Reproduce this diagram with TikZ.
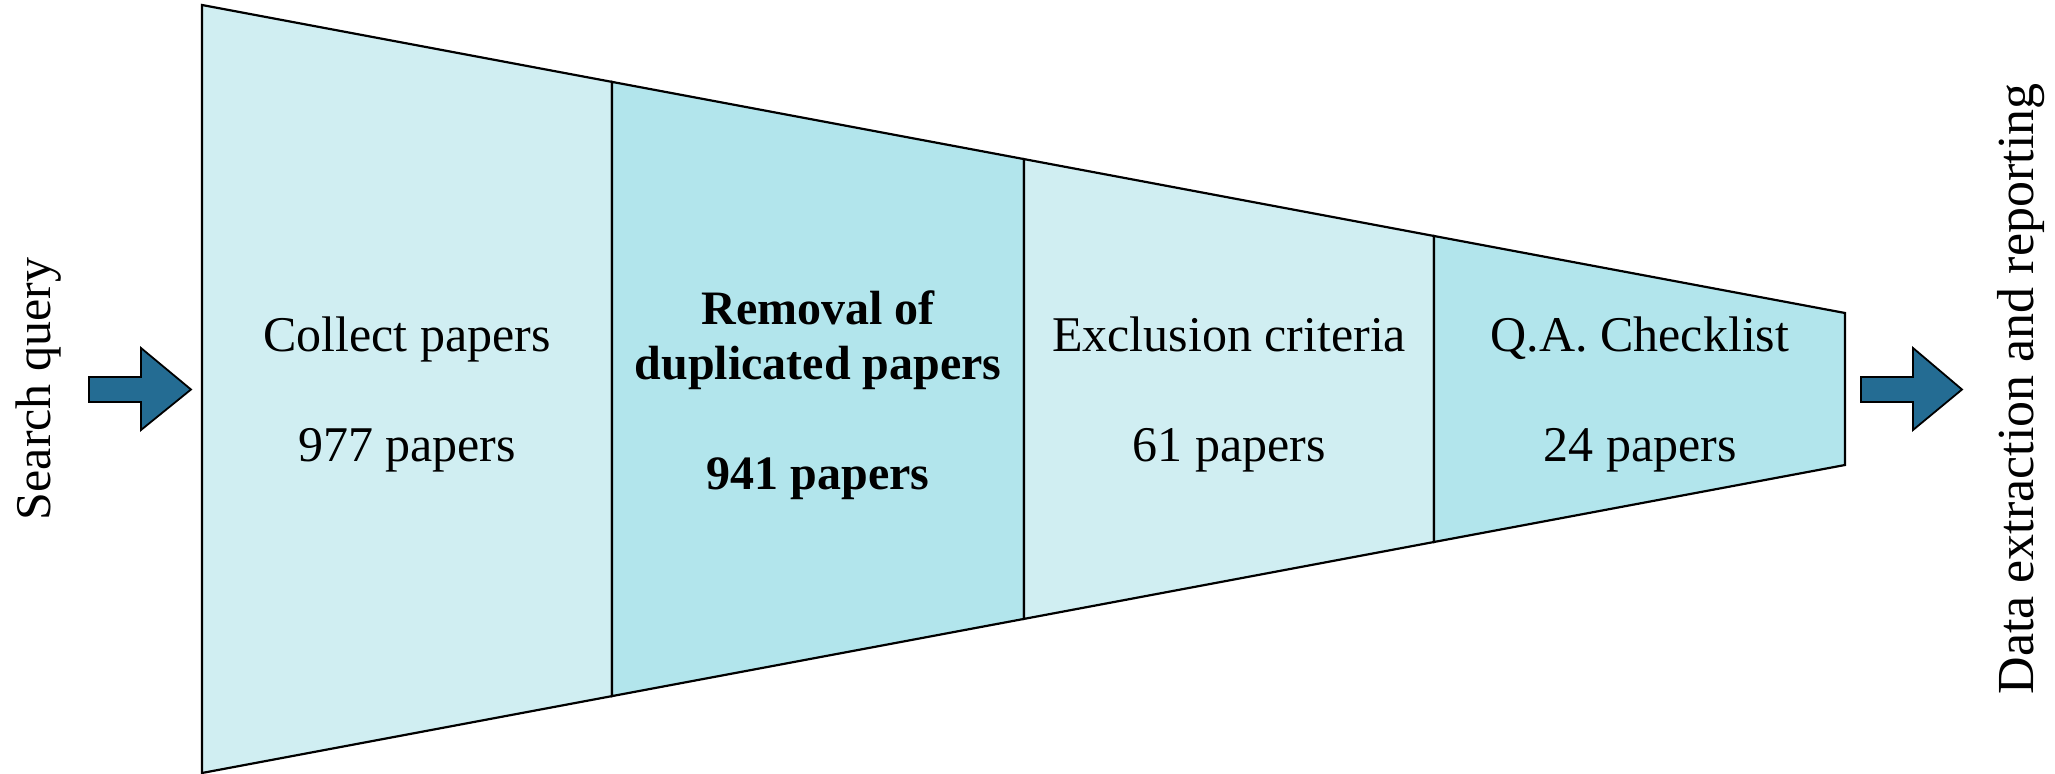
\documentclass[tikz,border=0pt]{standalone}
\usepackage{fontspec}
\setmainfont{Liberation Serif}
\definecolor{stagelight}{HTML}{D0EEF2}
\definecolor{stagedark}{HTML}{B2E5EC}
\definecolor{arrowblue}{HTML}{246C93}
\begin{document}
\begin{tikzpicture}[x=0.5pt,y=-0.5pt,
  stage/.style={draw=black,line width=1.1pt,line join=miter},
  stagetext/.style={align=center,inner sep=0pt,font=\fontsize{25}{27.5}\selectfont},
  stagebold/.style={stagetext,font=\fontsize{24}{27.5}\selectfont\bfseries},
  sidetext/.style={rotate=90,anchor=base,inner sep=0pt,font=\fontsize{25}{27.5}\selectfont},
  blockarrow/.style={fill=arrowblue,draw=black,line width=0.9pt,line join=miter}]
\useasboundingbox (0,0) rectangle (2055,774);

% funnel outline points (top and bottom edges)
\coordinate (t0) at (202,5);     \coordinate (b0) at (202,773);
\coordinate (t1) at (612,81.9);  \coordinate (b1) at (612,696.1);
\coordinate (t2) at (1024,159.1);\coordinate (b2) at (1024,618.9);
\coordinate (t3) at (1434,236);  \coordinate (b3) at (1434,542);
\coordinate (t4) at (1845,313);  \coordinate (b4) at (1845,465);

% funnel stages
\filldraw[stage,fill=stagelight] (t0) -- (t1) -- (b1) -- (b0) -- cycle;
\filldraw[stage,fill=stagedark]  (t1) -- (t2) -- (b2) -- (b1) -- cycle;
\filldraw[stage,fill=stagelight] (t2) -- (t3) -- (b3) -- (b2) -- cycle;
\filldraw[stage,fill=stagedark]  (t3) -- (t4) -- (b4) -- (b3) -- cycle;

% stage labels
\node[stagetext] (collect) at (407,394) {Collect papers\\[27.5pt]977 papers};
\node[stagebold] (dedup) at (818,395) {Removal of\\duplicated papers\\[27.5pt]941 papers};
\node[stagetext] (exclude) at (1229,394) {Exclusion criteria\\[27.5pt]61 papers};
\node[stagetext] (qa) at (1640,394) {Q.A. Checklist\\[27.5pt]24 papers};

% side labels
\node[sidetext] (query) at (50,389) {Search query};
\node[sidetext,font=\fontsize{26}{28}\selectfont] (report) at (2033,389) {Data extraction and reporting};

% input and output arrows
\coordinate (inarrow) at (89,389.5);
\coordinate (outarrow) at (1861,389.5);
\filldraw[blockarrow] (inarrow) ++(0,-12.5) -- ++(52,0) -- ++(0,-29) -- ++(50,41.5)
  -- ++(-50,40.5) -- ++(0,-28) -- ++(-52,0) -- cycle;
\filldraw[blockarrow] (outarrow) ++(0,-12.5) -- ++(52,0) -- ++(0,-29) -- ++(49,41.5)
  -- ++(-49,40.5) -- ++(0,-28) -- ++(-52,0) -- cycle;
\end{tikzpicture}
\end{document}
